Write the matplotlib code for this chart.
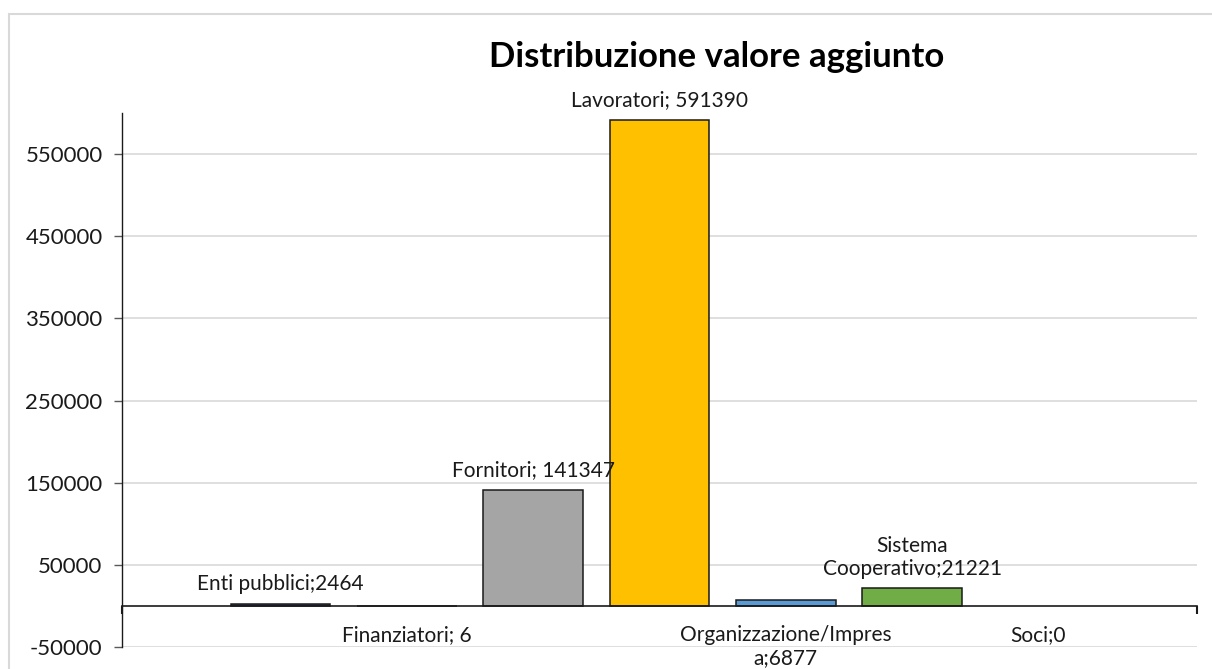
import matplotlib
matplotlib.use("Agg")
import matplotlib.pyplot as plt
from matplotlib.patches import Rectangle

plt.rcParams['font.family'] = ['Lato', 'DejaVu Sans']

categories = ['Enti pubblici', 'Finanziatori', 'Fornitori', 'Lavoratori',
              'Organizzazione/Impresa', 'Sistema Cooperativo', 'Soci']
values = [2464, 6, 141347, 591390, 6877, 21221, 0]
labels = ['Enti pubblici;2464', 'Finanziatori; 6', 'Fornitori; 141347',
          'Lavoratori; 591390', 'Organizzazione/Impres\na;6877',
          'Sistema\nCooperativo;21221', 'Soci;0']
# where Excel put each data label: above the bar or under the axis
placement = ['above', 'below', 'above', 'above', 'below', 'above', 'below']
colors = ['#2F4B7C', '#3A3A3A', '#A5A5A5', '#FFC000', '#5B9BD5', '#70AD47', '#FFFFFF']
yticks = [-50000, 50000, 150000, 250000, 350000, 450000, 550000]

fig = plt.figure(figsize=(12.12, 6.69), dpi=100)
fig.patches.append(Rectangle((9 / 1212, -0.1), 1.2, 1.1 - 14 / 669,
                             transform=fig.transFigure, fill=False,
                             edgecolor='#D9D9D9', linewidth=1.5))

ax = fig.add_axes([122 / 1212, 1 - 647 / 669, (1197 - 122) / 1212, (647 - 113) / 669])

x = list(range(len(categories)))
edge_w = [1.1 if v > 0 else 0 for v in values]
ax.bar(x, values, width=0.79, color=colors, edgecolor='#1A1A1A', linewidth=edge_w, zorder=3)

for xi, v, lab, pl in zip(x, values, labels, placement):
    if pl == 'above':
        ax.annotate(lab, (xi, v), xytext=(0, 7), textcoords='offset points',
                    ha='center', va='bottom', fontsize=15, color='#1A1A1A',
                    linespacing=1.2, zorder=4)
    else:
        ax.annotate(lab, (xi, 0), xytext=(0, -14), textcoords='offset points',
                    ha='center', va='top', fontsize=15, color='#1A1A1A',
                    linespacing=1.2, zorder=4)

ax.set_xlim(-1.255, 7.255)
ax.set_ylim(-50000, 600000)
ax.set_yticks(yticks)
ax.set_yticklabels([str(t) for t in yticks], fontsize=16, color='#1A1A1A')
ax.tick_params(axis='y', direction='out', length=6, width=1, color='#595959', pad=8)
ax.set_xticks([-1.255, 7.255])
ax.set_xticklabels([])
ax.tick_params(axis='x', direction='out', length=6, width=1.5, color='#1A1A1A')

ax.grid(axis='y', color='#D9D9D9', linewidth=1.2, zorder=0)
ax.set_axisbelow(True)
for s in ['top', 'right']:
    ax.spines[s].set_visible(False)
ax.spines['bottom'].set_position(('data', 0))
ax.spines['bottom'].set_color('#1A1A1A')
ax.spines['bottom'].set_linewidth(1.2)
ax.spines['bottom'].set_zorder(5)
ax.spines['left'].set_color('#1A1A1A')
ax.spines['left'].set_linewidth(1.0)

fig.text(0.591, 1 - 57 / 669, 'Distribuzione valore aggiunto', ha='center', va='center',
         fontsize=25, fontweight='bold', color='#000000')

fig.savefig('out.png', dpi=100)
